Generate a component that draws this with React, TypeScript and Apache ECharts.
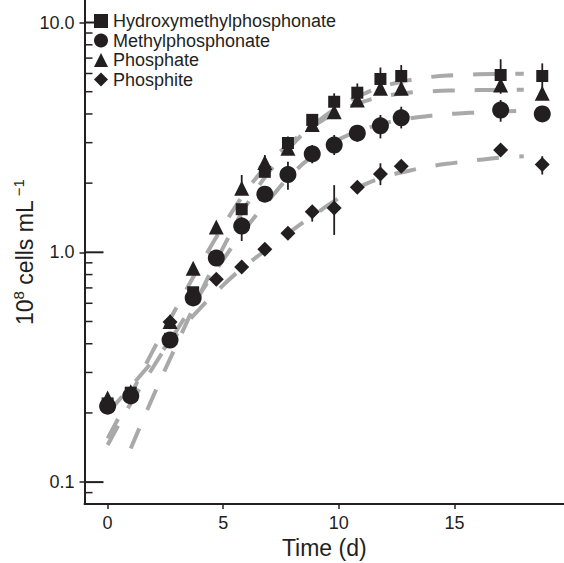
import React, { useEffect, useRef } from "react";
import * as echarts from "echarts";

// ---- data ----
const times = [0, 1, 2.7, 3.7, 4.7, 5.8, 6.8, 7.8, 8.85, 9.8, 10.8, 11.8, 12.7, 17.0, 18.8];

const hmpValues = [0.22, 0.245, 0.42, 0.67, 0.95, 1.54, 2.24, 2.99, 3.77, 4.52, 4.95, 5.68, 5.85, 5.91, 5.85];
const mpValues = [0.214, 0.237, 0.415, 0.633, 0.944, 1.3, 1.79, 2.18, 2.68, 2.93, 3.3, 3.55, 3.85, 4.16, 4.0];
const phosphateValues = [0.232, 0.247, 0.5, 0.852, 1.29, 1.9, 2.46, 2.84, 3.6, 4.09, 4.6, 5.17, 5.17, 5.35, 4.92];
const phosphiteValues = [0.22, 0.24, 0.497, 0.63, 0.763, 0.863, 1.03, 1.21, 1.5, 1.56, 1.92, 2.19, 2.37, 2.79, 2.41];

// error bars: [low, high] or null, one per time point
const hmpErr = [null, null, null, null, null, null, null, [2.8, 3.19], [3.6, 3.95], [4.3, 4.92], [4.6, 5.43], [5.1, 6.37], [5.3, 6.53], [4.9, 6.92], [5.1, 6.64]];
const mpErr = [null, null, null, null, [0.88, 1.0], [1.12, 1.42], null, [1.87, 2.48], [2.44, 2.93], [2.65, 3.24], [3.03, 3.58], [3.13, 3.96], [3.46, 4.3], [3.7, 4.6], null];
const phosphateErr = [null, null, null, null, null, [1.8, 2.17], [2.3, 2.65], null, null, null, null, null, null, [5.0, 5.7], null];
const phosphiteErr = [null, null, null, null, null, null, null, null, [1.36, 1.58], [1.19, 1.96], null, [1.96, 2.44], null, null, [2.18, 2.62]];

// fitted curves (dashed grey)
const fitTimesHmp = [1, 2, 3, 4, 5, 6, 7, 8, 9, 10, 11, 12, 13, 14, 15, 16, 17, 18];
const fitHmp = [0.14, 0.24, 0.4, 0.66, 1.05, 1.6, 2.25, 2.95, 3.65, 4.3, 4.85, 5.3, 5.6, 5.8, 5.9, 5.95, 5.97, 5.98];
const fitTimes = [0, 1, 2, 3, 4, 5, 6, 7, 8, 9, 10, 11, 12, 13, 14, 15, 16, 17, 18];
const fitMp = [0.145, 0.22, 0.32, 0.46, 0.66, 0.93, 1.28, 1.7, 2.2, 2.68, 3.1, 3.4, 3.65, 3.82, 3.93, 4.01, 4.06, 4.1, 4.13];
const fitPhosphate = [0.155, 0.24, 0.38, 0.58, 0.88, 1.3, 1.85, 2.45, 3.05, 3.6, 4.1, 4.5, 4.78, 4.95, 5.02, 5.06, 5.08, 5.09, 5.1];
const fitPhosphite = [0.2, 0.26, 0.34, 0.44, 0.57, 0.72, 0.88, 1.05, 1.25, 1.47, 1.72, 1.95, 2.13, 2.26, 2.37, 2.45, 2.52, 2.58, 2.62];

const seriesNames = ["Hydroxymethylphosphonate", "Methylphosphonate", "Phosphate", "Phosphite"];
const xTicks = [0, 5, 10, 15];
const yMajorTicks = [0.1, 1, 10];
const yMinorTicks = [0.09, 0.2, 0.3, 0.4, 0.5, 0.6, 0.7, 0.8, 0.9, 2, 3, 4, 5, 6, 7, 8, 9];

const FONT = "'Liberation Sans', Arial, Helvetica, sans-serif";
const INK = "#231f20";
const GREY = "#a9a9a9";

const X_MIN = -1;
const X_MAX = 19.74;
const Y_MIN = 0.0803;
const Y_MAX = 12.53;

function pairs(xs: number[], ys: number[]) {
  return xs.map((x, i) => [x, ys[i]]);
}

function errData(err: (number[] | null)[]) {
  const out: number[][] = [];
  err.forEach((e, i) => {
    if (e) out.push([times[i], e[0], e[1]]);
  });
  return out;
}

// inward tick marks on the y axis: thin rect symbols anchored on the axis line
function tickSeries(name: string, ticks: number[], len: number, width: number) {
  return {
    name,
    type: "scatter",
    data: ticks.map((v) => [X_MIN, v]),
    symbol: "rect",
    symbolSize: [len, width],
    symbolOffset: [len / 2, 0],
    silent: true,
    clip: false,
    z: 5,
    itemStyle: { color: INK, opacity: 1 },
  };
}

export default function App() {
  const ref = useRef<HTMLDivElement>(null);

  useEffect(() => {
    if (!ref.current) return;
    const chart = echarts.init(ref.current, null, { renderer: "svg" });

    const symbols = ["rect", "circle", "triangle", "diamond"];
    const sizes = [12, 17, 15, 15];
    const values = [hmpValues, mpValues, phosphateValues, phosphiteValues];
    const errs = [hmpErr, mpErr, phosphateErr, phosphiteErr];
    const fits = [
      pairs(fitTimesHmp, fitHmp),
      pairs(fitTimes, fitMp),
      pairs(fitTimes, fitPhosphate),
      pairs(fitTimes, fitPhosphite),
    ];

    const series: any[] = [];
    fits.forEach((f, i) => {
      series.push({
        name: "fit " + seriesNames[i],
        type: "line",
        data: f,
        smooth: true,
        showSymbol: false,
        silent: true,
        z: 1,
        lineStyle: { color: GREY, width: 4, type: [22, 20] },
      });
    });
    errs.forEach((e, i) => {
      series.push({
        name: "err " + seriesNames[i],
        type: "custom",
        data: errData(e),
        z: 2,
        silent: true,
        encode: { x: 0, y: [1, 2] },
        renderItem: (params: any, api: any) => {
          const t = api.value(0);
          const p1 = api.coord([t, api.value(1)]);
          const p2 = api.coord([t, api.value(2)]);
          return {
            type: "line",
            shape: { x1: p1[0], y1: p1[1], x2: p2[0], y2: p2[1] },
            style: { stroke: INK, lineWidth: 1.8 },
          };
        },
      });
    });
    values.forEach((v, i) => {
      series.push({
        name: seriesNames[i],
        type: "scatter",
        data: pairs(times, v),
        symbol: symbols[i],
        symbolSize: sizes[i],
        z: 3,
        itemStyle: { color: INK, opacity: 1 },
      });
    });
    series.push(tickSeries("major ticks", yMajorTicks, 19, 2));
    series.push(tickSeries("minor ticks", yMinorTicks, 8, 1.5));

    chart.setOption({
      animation: false,
      textStyle: { fontFamily: FONT },
      grid: { left: 84.5, right: 0, top: 0, bottom: 59, containLabel: false, outerBoundsMode: "none" },
      legend: {
        data: seriesNames,
        orient: "vertical",
        left: 94,
        top: 12,
        padding: 0,
        itemWidth: 14,
        itemHeight: 14,
        itemGap: 1.5,
        textStyle: { fontSize: 18, color: INK, fontFamily: FONT, lineHeight: 18 },
        selectedMode: false,
      },
      xAxis: {
        type: "value",
        min: X_MIN,
        max: X_MAX,
        name: "Time (d)",
        nameLocation: "middle",
        nameGap: 32,
        nameMoveOverlap: false,
        nameTextStyle: { fontSize: 23, color: INK, fontFamily: FONT },
        axisLine: { show: true, onZero: false, lineStyle: { color: INK, width: 2 } },
        axisTick: { show: true, inside: false, length: 5, customValues: xTicks, lineStyle: { color: INK, width: 1.5 } },
        axisLabel: { customValues: xTicks, margin: 10, fontSize: 18, color: INK, fontFamily: FONT },
        splitLine: { show: false },
      },
      yAxis: {
        type: "log",
        logBase: 10,
        min: Y_MIN,
        max: Y_MAX,
        position: "left",
        splitLine: { show: false },
        minorTick: { show: false },
        name: "{n|10}{s|8}{n| cells mL}{s| \u22121}",
        nameLocation: "middle",
        nameRotate: 90,
        nameGap: 48,
        nameMoveOverlap: false,
        nameTextStyle: {
          fontSize: 23,
          color: INK,
          fontFamily: FONT,
          rich: {
            n: { fontSize: 23, color: INK, fontFamily: FONT, lineHeight: 26, verticalAlign: "bottom" },
            s: { fontSize: 15, color: INK, fontFamily: FONT, lineHeight: 26, verticalAlign: "top" },
          },
        },
        axisLine: { show: true, onZero: false, lineStyle: { color: INK, width: 2 } },
        axisTick: { show: true, inside: false, length: 5, customValues: yMajorTicks, lineStyle: { color: INK, width: 1.5 } },
        axisLabel: {
          customValues: yMajorTicks,
          margin: 10,
          fontSize: 18,
          color: INK,
          fontFamily: FONT,
          formatter: (v: number) => v.toFixed(1),
        },
      },
      series,
    });

    return () => chart.dispose();
  }, []);

  return <div ref={ref} style={{ width: 564, height: 563, position: "absolute", left: 0, top: 0 }} />;
}
